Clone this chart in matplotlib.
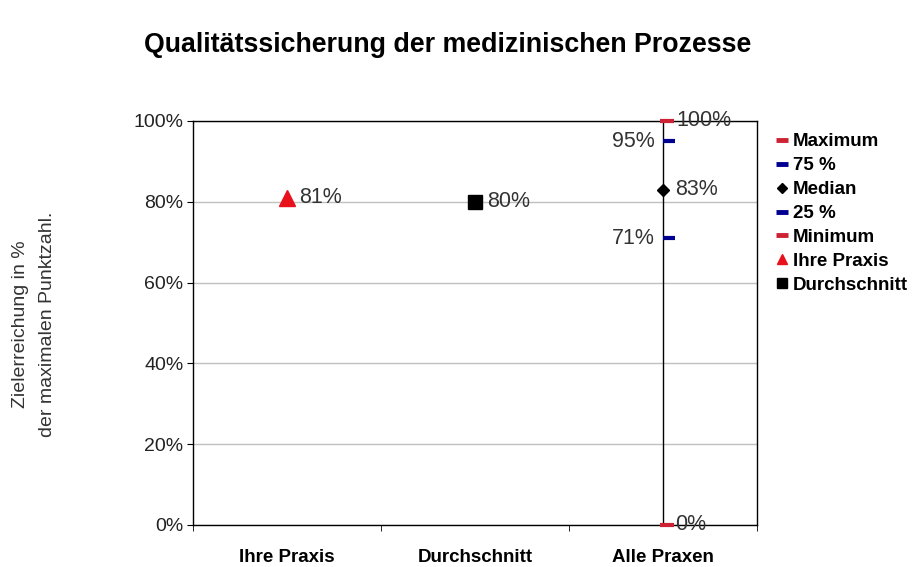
import matplotlib
matplotlib.use('Agg')
import matplotlib.pyplot as plt
from matplotlib.lines import Line2D

plt.rcParams['font.family'] = ['Liberation Sans', 'DejaVu Sans']

# ── Daten ──
categories = ['Ihre Praxis', 'Durchschnitt', 'Alle Praxen']
ihre_praxis = 0.81
ihre_label = '81%'
durchschnitt = 0.80
durchschnitt_label = '80%'
alle_max = 1.00
alle_q75 = 0.95
alle_median = 0.83
alle_q25 = 0.71
alle_min = 0.00
stat_labels = ['100%', '95%', '83%', '71%', '0%']

RED = '#cc2233'
TRI_RED = '#e8101a'
BLUE = '#000090'

fig = plt.figure(figsize=(9.19, 5.67), dpi=100)
fig.patch.set_facecolor('white')
ax = fig.add_axes([0.21, 0.0741, 0.6137, 0.7125])

x_ihre, x_dur, x_alle = 0, 1, 2

# Gitterlinien
ax.set_ylim(0, 1)
ax.set_xlim(-0.5, 2.5)
ax.set_yticks([0, 0.2, 0.4, 0.6, 0.8, 1.0])
ax.set_yticklabels(['0%', '20%', '40%', '60%', '80%', '100%'],
                   fontsize=14, color='#222222')
ax.yaxis.grid(True, color='#c0c0c0', linewidth=1)
ax.set_axisbelow(True)

ax.set_xticks([0, 1, 2])
ax.set_xticklabels(categories, fontsize=13.5, fontweight='bold')
ax.set_xticks([-0.5, 0.5, 1.5, 2.5], minor=True)
ax.tick_params(axis='x', which='major', length=0, pad=17)
ax.tick_params(axis='x', which='minor', length=4, direction='out')
ax.tick_params(axis='y', length=4, direction='out', pad=3)
for sp in ax.spines.values():
    sp.set_color('black')
    sp.set_linewidth(1)

# Alle Praxen: Spannweite
ax.plot([x_alle, x_alle], [alle_min, alle_max], color='black', lw=1, zorder=3)
ax.plot([x_alle + 0.02], [alle_max], marker='_', color=RED, ms=10, mew=3, zorder=4, clip_on=False)
ax.plot([x_alle + 0.03], [alle_q75], marker='_', color=BLUE, ms=8, mew=3, zorder=4)
ax.plot([x_alle], [alle_median], marker='D', color='black', ms=6, zorder=4)
ax.plot([x_alle + 0.03], [alle_q25], marker='_', color=BLUE, ms=8, mew=3, zorder=4)
ax.plot([x_alle + 0.02], [alle_min], marker='_', color=RED, ms=10, mew=3, zorder=4, clip_on=False)

# Ihre Praxis / Durchschnitt
ax.plot([x_ihre], [ihre_praxis], marker='^', color=TRI_RED, ms=11, ls='none', zorder=4)
ax.plot([x_dur], [durchschnitt], marker='s', color='black', ms=10, ls='none', zorder=4)

lab_kw = dict(fontsize=15.5, color='#333333', va='center', textcoords='offset points')
ax.annotate(ihre_label, (x_ihre, ihre_praxis), xytext=(9, 0), ha='left', **lab_kw)
ax.annotate(durchschnitt_label, (x_dur, durchschnitt), xytext=(9, 0), ha='left', **lab_kw)
ax.annotate(stat_labels[0], (x_alle, alle_max), xytext=(10, 0), ha='left', **lab_kw)
ax.annotate(stat_labels[1], (x_alle, alle_q75), xytext=(-6, 0), ha='right', **lab_kw)
ax.annotate(stat_labels[2], (x_alle, alle_median), xytext=(9, 0), ha='left', **lab_kw)
ax.annotate(stat_labels[3], (x_alle, alle_q25), xytext=(-6, 0), ha='right', **lab_kw)
ax.annotate(stat_labels[4], (x_alle, alle_min), xytext=(9, 0), ha='left', **lab_kw)

# Titel und Achsenbeschriftung
fig.text(0.487, 0.92, 'Qualitätssicherung der medizinischen Prozesse',
         ha='center', va='center', fontsize=19.3, fontweight='bold')
fig.text(0.037, 0.428, 'Zielerreichung in %\nder maximalen Punktzahl.',
         ha='center', va='center', rotation=90, fontsize=14, color='#333333',
         linespacing=1.7)

# Legende
handles = [
    Line2D([], [], marker='_', color=RED, ls='none', ms=9, mew=3.5, label='Maximum'),
    Line2D([], [], marker='_', color=BLUE, ls='none', ms=9, mew=3.5, label='75 %'),
    Line2D([], [], marker='D', color='black', ls='none', ms=5.5, label='Median'),
    Line2D([], [], marker='_', color=BLUE, ls='none', ms=9, mew=3.5, label='25 %'),
    Line2D([], [], marker='_', color=RED, ls='none', ms=9, mew=3.5, label='Minimum'),
    Line2D([], [], marker='^', color=TRI_RED, ls='none', ms=7, label='Ihre Praxis'),
    Line2D([], [], marker='s', color='black', ls='none', ms=6.5, label='Durchschnitt'),
]
fig.legend(handles=handles, loc='upper left', bbox_to_anchor=(0.836, 0.778),
           frameon=False, prop={'weight': 'bold', 'size': 13.5},
           handlelength=0.7, handletextpad=0.2, labelspacing=0.36,
           borderaxespad=0)

fig.savefig('out.png', dpi=100)
